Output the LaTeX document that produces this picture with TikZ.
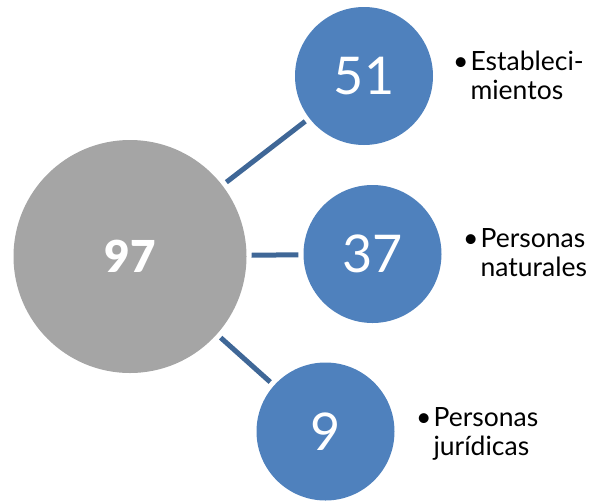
\documentclass[tikz,border=0pt]{standalone}
\usepackage{fontspec}
\setmainfont{Lato}[BoldFont={Lato Black}]
\usepackage{tikz}
\definecolor{bubbleblue}{HTML}{4F81BD}
\definecolor{bubblegray}{HTML}{A5A5A5}
\definecolor{linkblue}{HTML}{3F6797}
\newcommand{\itemlabel}[2]{\begin{tabular}[t]{@{}l@{\hspace{2pt}}l@{}}•&#1\\&#2\end{tabular}}

\begin{document}
\begin{tikzpicture}[x=1pt, y=-1pt,
    bubble/.style={circle, fill=bubbleblue, inner sep=0pt, minimum size=138pt,
        text=white, font=\fontsize{52}{52}\selectfont},
    link/.style={linkblue, line width=5pt, shorten <=5pt, shorten >=5pt},
    itemtext/.style={anchor=base west, inner sep=0pt, font=\fontsize{26.5}{29.5}\selectfont}]

    \useasboundingbox (0, 0) rectangle (594, 501);

    % Total
    \node[circle, fill=bubblegray, inner sep=0pt, minimum size=233pt, text=white,
        font=\fontsize{44}{44}\selectfont\bfseries] (total) at (130, 256.5) {97};
    % Parts
    \node[bubble] (est) at (364, 76) {51};
    \node[bubble] (nat) at (372.5, 254) {37};
    \node[bubble] (jur) at (325.5, 431.5) {9};
    % Connectors from total to parts
    \draw[link] (total) -- (est);
    \draw[link] (total) -- (nat);
    \draw[link] (total) -- (jur);
    % Labels
    \node[itemtext] (estlabel) at (453, 70) {\itemlabel{Estableci-}{mientos}};
    \node[itemtext] (natlabel) at (463, 247) {\itemlabel{Personas}{naturales}};
    \node[itemtext] (jurlabel) at (416, 426) {\itemlabel{Personas}{jurídicas}};
\end{tikzpicture}
\end{document}
